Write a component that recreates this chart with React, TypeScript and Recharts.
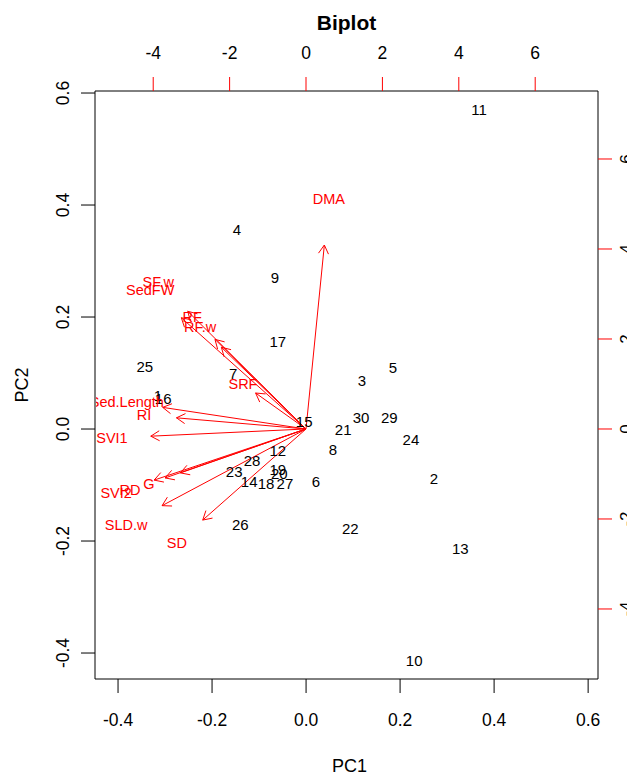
import { ScatterChart, Scatter, XAxis, YAxis, ReferenceLine } from 'recharts'

// observation scores (bottom / left axes)
const obsIds = [
  '1', '2', '3', '4', '5', '6', '7', '8', '9', '10',
  '11', '12', '13', '14', '15', '16', '17', '18', '19', '20',
  '21', '22', '23', '24', '25', '26', '27', '28', '29', '30'
]
const obsPC1 = [
  -0.315, 0.272, 0.119, -0.147, 0.185, 0.021, -0.155, 0.057, -0.066, 0.230,
  0.368, -0.060, 0.328, -0.121, -0.004, -0.304, -0.060, -0.085, -0.060, -0.057,
  0.079, 0.094, -0.153, 0.223, -0.343, -0.140, -0.045, -0.115, 0.177, 0.117
]
const obsPC2 = [
  0.059, -0.089, 0.0875, 0.357, 0.109, -0.093, 0.100, -0.036, 0.271, -0.4125,
  0.570, -0.039, -0.2125, -0.093, 0.014, 0.055, 0.157, -0.098, -0.073, -0.080,
  0.000, -0.177, -0.075, -0.018, 0.1125, -0.170, -0.098, -0.057, 0.021, 0.021
]

// variable loadings (top / right axes)
const varNames = [
  'DMA', 'SF.w', 'SedFW', 'RF', 'RF.w', 'SRF', 'Sed.Length',
  'RI', 'SVI1', 'G', 'RD', 'SVI2', 'SLD.w', 'SD'
]
const varPC1 = [0.6, -3.87, -4.08, -2.98, -2.77, -1.65, -4.69, -4.24, -5.08, -4.11, -4.61, -4.97, -4.71, -3.38]
const varPC2 = [5.11, 3.27, 3.09, 2.49, 2.27, 1.0, 0.6, 0.31, -0.2, -1.22, -1.36, -1.42, -2.13, -2.53]

const scoreTicks = [-0.4, -0.2, 0, 0.2, 0.4, 0.6]
const loadTicks = [-4, -2, 0, 2, 4, 6]

const obsData = obsIds.map((id, i) => ({ id, x: obsPC1[i], y: obsPC2[i] }))
const varData = varNames.map((name, i) => ({ name, x: varPC1[i], y: varPC2[i] }))

const FONT = 'Liberation Sans, Arial, sans-serif'
const RED = '#ff0000'
const ARROW_SCALE = 0.8

// chart covers the whole page (wrapper cancels the body margin)
const W = 635
const H = 780
const LEFT = 95
const RIGHT = 598
const TOP = 91
const BOTTOM = 679

const ObsLabel = (props: any) => (
  <text x={props.cx} y={props.cy} textAnchor="middle" dominantBaseline="central"
    fontSize={15} fontFamily={FONT} fill="#000">
    {props.payload?.id}
  </text>
)

// variable names are clipped to the plot box, like R does
const VarLabel = (props: any) => {
  const name = props.payload?.name ?? ''
  const id = 'vclip-' + name.replace(/[^A-Za-z0-9]/g, '_')
  return (
    <g>
      <defs>
        <clipPath id={id}>
          <rect x={LEFT + 1} y={TOP} width={RIGHT - LEFT - 1} height={BOTTOM - TOP} />
        </clipPath>
      </defs>
      <text x={props.cx} y={props.cy} textAnchor="middle" dominantBaseline="central"
        fontSize={14.5} fontFamily={FONT} fill={RED} clipPath={`url(#${id})`}>
        {name}
      </text>
    </g>
  )
}

const Arrow = (props: any) => {
  const { x1, y1, x2, y2 } = props
  const ang = Math.atan2(y2 - y1, x2 - x1)
  const len = 10
  const a1 = ang + Math.PI - Math.PI / 6
  const a2 = ang + Math.PI + Math.PI / 6
  return (
    <g stroke={RED} strokeWidth={1} fill="none">
      <line x1={x1} y1={y1} x2={x2} y2={y2} />
      <line x1={x2} y1={y2} x2={x2 + len * Math.cos(a1)} y2={y2 + len * Math.sin(a1)} />
      <line x1={x2} y1={y2} x2={x2 + len * Math.cos(a2)} y2={y2 + len * Math.sin(a2)} />
    </g>
  )
}

const BottomTick = (props: any) => (
  <text x={props.payload.coordinate} y={720} textAnchor="middle" dominantBaseline="central"
    fontSize={17.5} fontFamily={FONT} fill="#000">
    {Number(props.payload.value).toFixed(1)}
  </text>
)

const TopTick = (props: any) => (
  <text x={props.payload.coordinate} y={53} textAnchor="middle" dominantBaseline="central"
    fontSize={17.5} fontFamily={FONT} fill="#000">
    {props.payload.value}
  </text>
)

const LeftTick = (props: any) => {
  const y = props.payload.coordinate
  return (
    <text x={63} y={y} transform={`rotate(-90 63 ${y})`} textAnchor="middle"
      dominantBaseline="central" fontSize={17.5} fontFamily={FONT} fill="#000">
      {Number(props.payload.value).toFixed(1)}
    </text>
  )
}

const RightTick = (props: any) => {
  const y = props.payload.coordinate
  return (
    <text x={627} y={y} transform={`rotate(-90 627 ${y})`} textAnchor="middle"
      dominantBaseline="central" fontSize={17} fontFamily={FONT} fill="#000">
      {props.payload.value}
    </text>
  )
}

const App = () => {
  return (
    <div style={{ width: W, height: H - 8, margin: '-8px 0 0 -8px' }}>
      <ScatterChart width={W} height={H} margin={{ top: 0, right: 0, bottom: 0, left: 0 }}>
        <XAxis
          xAxisId="bottom" dataKey="x" type="number" orientation="bottom"
          domain={[-0.449, 0.621]} ticks={scoreTicks} allowDataOverflow
          height={H - BOTTOM} tickSize={14}
          axisLine={{ stroke: '#000' }} tickLine={{ stroke: '#000' }}
          tick={<BottomTick />}
          label={{
            content: () => (
              <text x={(LEFT + RIGHT) / 2 + 3} y={766} textAnchor="middle" dominantBaseline="central"
                fontSize={18} fontFamily={FONT} fill="#000">PC1</text>
            )
          }}
        />
        <XAxis
          xAxisId="top" dataKey="x" type="number" orientation="top"
          domain={[-5.524, 7.644]} ticks={loadTicks} allowDataOverflow
          height={TOP} tickSize={14}
          axisLine={{ stroke: '#000' }} tickLine={{ stroke: RED }}
          tick={<TopTick />}
          label={{
            content: () => (
              <text x={(LEFT + RIGHT) / 2} y={22} textAnchor="middle" dominantBaseline="central"
                fontSize={21} fontWeight="bold" fontFamily={FONT} fill="#000">Biplot</text>
            )
          }}
        />
        <YAxis
          yAxisId="left" dataKey="y" type="number" orientation="left"
          domain={[-0.4464, 0.6036]} ticks={scoreTicks} allowDataOverflow
          width={LEFT} tickSize={14}
          axisLine={{ stroke: '#000' }} tickLine={{ stroke: '#000' }}
          tick={<LeftTick />}
          label={{
            content: () => (
              <text x={22} y={(TOP + BOTTOM) / 2} transform={`rotate(-90 22 ${(TOP + BOTTOM) / 2})`}
                textAnchor="middle" dominantBaseline="central"
                fontSize={18} fontFamily={FONT} fill="#000">PC2</text>
            )
          }}
        />
        <YAxis
          yAxisId="right" dataKey="y" type="number" orientation="right"
          domain={[-5.556, 7.511]} ticks={loadTicks} allowDataOverflow
          width={W - RIGHT} tickSize={14}
          axisLine={{ stroke: '#000' }} tickLine={{ stroke: RED }}
          tick={<RightTick />}
        />
        {varData.map((v) => (
          <ReferenceLine
            key={v.name}
            xAxisId="top" yAxisId="right"
            segment={[{ x: 0, y: 0 }, { x: v.x * ARROW_SCALE, y: v.y * ARROW_SCALE }]}
            ifOverflow="visible"
            shape={Arrow}
          />
        ))}
        <Scatter data={obsData} xAxisId="bottom" yAxisId="left" shape={ObsLabel} isAnimationActive={false} />
        <Scatter data={varData} xAxisId="top" yAxisId="right" shape={VarLabel} isAnimationActive={false} />
      </ScatterChart>
    </div>
  )
}

export default App
